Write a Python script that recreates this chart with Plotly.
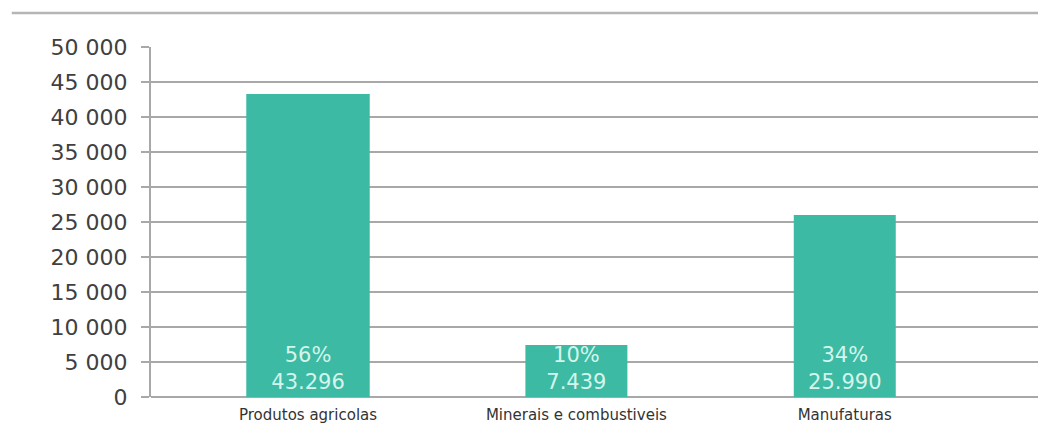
import plotly.graph_objects as go

categories = ["Produtos agricolas", "Minerais e combustiveis", "Manufaturas"]
values = [43296, 7439, 25990]
percents = ["56%", "10%", "34%"]
value_labels = ["43.296", "7.439", "25.990"]
y_tickvals = [0, 5000, 10000, 15000, 20000, 25000, 30000, 35000, 40000, 45000, 50000]
y_ticktext = ["0", "5 000", "10 000", "15 000", "20 000", "25 000", "30 000",
              "35 000", "40 000", "45 000", "50 000"]

bar_widths = [0.46, 0.38, 0.38]
bar_color = "#3cbaa3"
grid_color = "#a8a8a8"
font_family = "DejaVu Sans"

texts = [f"{p}<br>{v}" for p, v in zip(percents, value_labels)]

fig = go.Figure(go.Bar(
    x=categories, y=values, width=bar_widths,
    marker=dict(color=bar_color, line=dict(width=0)),
    text=texts, textposition="inside", insidetextanchor="start",
    textangle=0,
    textfont=dict(family=font_family, size=21, color="#d4f5ec"),
    cliponaxis=False,
))

fig.update_layout(
    width=1038, height=425,
    margin=dict(l=151, r=0, t=47, b=28, pad=0, autoexpand=False),
    paper_bgcolor="white", plot_bgcolor="white",
    showlegend=False,
    uniformtext=dict(mode="show", minsize=21),
    xaxis=dict(
        type="category", range=[-0.585, 2.72], domain=[0, 1], automargin=False,
        showgrid=False, showline=False, ticks="",
        ticklabelstandoff=7,
        tickfont=dict(family=font_family, size=15, color="#333333"),
    ),
    yaxis=dict(
        range=[0, 50000], automargin=False,
        tickvals=y_tickvals, ticktext=y_ticktext,
        showgrid=True, gridcolor=grid_color, gridwidth=2,
        zeroline=True, zerolinecolor=grid_color, zerolinewidth=2,
        showline=True, linecolor=grid_color, linewidth=2,
        ticks="outside", ticklen=8, tickcolor=grid_color, tickwidth=2,
        ticklabelstandoff=9,
        tickfont=dict(family=font_family, size=22, color="#404040"),
    ),
    shapes=[dict(type="line", xref="paper", yref="paper",
                 x0=-0.157, x1=1.0, y0=1.0 + 34 / 350, y1=1.0 + 34 / 350,
                 line=dict(color="#b5b5b5", width=2.5))],
)

fig.write_html("out.html")
